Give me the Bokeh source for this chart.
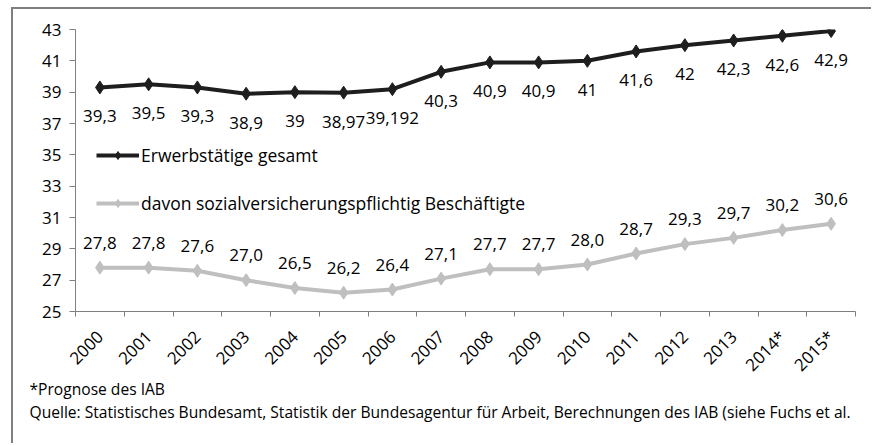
import math
from bokeh.plotting import figure
from bokeh.models import Range1d, FixedTicker, Legend, LegendItem, Title, ColumnDataSource
from bokeh.core.properties import value
from bokeh.embed import file_html
from bokeh.resources import INLINE

years = ["2000", "2001", "2002", "2003", "2004", "2005", "2006", "2007",
         "2008", "2009", "2010", "2011", "2012", "2013", "2014*", "2015*"]
erwerb = [39.3, 39.5, 39.3, 38.9, 39.0, 38.97, 39.192, 40.3, 40.9, 40.9, 41.0, 41.6, 42.0, 42.3, 42.6, 42.9]
erwerb_labels = ["39,3", "39,5", "39,3", "38,9", "39", "38,97", "39,192", "40,3", "40,9", "40,9",
                 "41", "41,6", "42", "42,3", "42,6", "42,9"]
svb = [27.8, 27.8, 27.6, 27.0, 26.5, 26.2, 26.4, 27.1, 27.7, 27.7, 28.0, 28.7, 29.3, 29.7, 30.2, 30.6]
svb_labels = ["27,8", "27,8", "27,6", "27,0", "26,5", "26,2", "26,4", "27,1", "27,7", "27,7",
              "28,0", "28,7", "29,3", "29,7", "30,2", "30,6"]
y_ticks = [25, 27, 29, 31, 33, 35, 37, 39, 41, 43]
series_names = ["Erwerbstätige gesamt", "davon sozialversicherungspflichtig Beschäftigte"]
footnotes = ["*Prognose des IAB",
             "Quelle: Statistisches Bundesamt, Statistik der Bundesagentur für Arbeit, Berechnungen des IAB (siehe  Fuchs et al."]

FONT = "Open Sans"
FS = "17px"
xs = [i + 0.5 for i in range(len(years))]

p = figure(width=860, height=436, output_backend="svg", toolbar_location=None,
           x_range=Range1d(0, len(years)), y_range=Range1d(25, 43),
           min_border_left=62, min_border_right=18, min_border_top=20, min_border_bottom=134)
p.styles = {"border-top": "2px solid #7f7f7f", "border-left": "2px solid #7f7f7f",
            "margin-left": "11px", "margin-top": "7px"}
p.outline_line_color = None
p.grid.visible = False

ax = p.xaxis[0]
ax.ticker = FixedTicker(ticks=xs, minor_ticks=list(range(len(years) + 1)))
ax.major_label_overrides = {x: y for x, y in zip(xs, years)}
ax.major_tick_out = 0
ax.major_tick_in = 0
ax.minor_tick_out = 5
ax.minor_tick_in = 0
ax.minor_tick_line_color = "#7f7f7f"
ax.axis_line_color = "#7f7f7f"
ax.major_label_orientation = math.pi / 4
ax.major_label_text_font = FONT
ax.major_label_text_font_size = "17px"
ax.major_label_text_color = "black"
ax.major_label_standoff = 17

ay = p.yaxis[0]
ay.ticker = FixedTicker(ticks=y_ticks)
ay.minor_tick_line_color = None
ay.major_tick_out = 6
ay.major_tick_in = 0
ay.major_tick_line_color = "#7f7f7f"
ay.axis_line_color = "#7f7f7f"
ay.major_label_text_font = FONT
ay.major_label_text_font_size = FS
ay.major_label_text_color = "black"
ay.major_label_standoff = 8

black = "#1e1e1e"
gray = "#bfbfbf"

src1 = ColumnDataSource(dict(x=xs, y=erwerb, t=erwerb_labels))
src2 = ColumnDataSource(dict(x=xs, y=svb, t=svb_labels))

l1 = p.line("x", "y", source=src1, line_color=black, line_width=4)
m1 = p.scatter("x", "y", source=src1, marker="diamond", size=13, fill_color=black, line_color=black)
l2 = p.line("x", "y", source=src2, line_color=gray, line_width=4)
m2 = p.scatter("x", "y", source=src2, marker="diamond", size=13, fill_color=gray, line_color=gray)

p.text("x", "y", text="t", source=src1, y_offset=29, text_align="center", text_baseline="middle",
       text_font=value(FONT), text_font_size=FS, text_color="black")
p.text("x", "y", text="t", source=src2, y_offset=-25, text_align="center", text_baseline="middle",
       text_font=value(FONT), text_font_size=FS, text_color="black")

legend = Legend(items=[LegendItem(label=series_names[0], renderers=[l1, m1]),
                       LegendItem(label=series_names[1], renderers=[l2, m2])],
                location=(21, 96), glyph_width=43, glyph_height=20, label_height=20,
                spacing=24, padding=0, margin=0, label_standoff=2,
                border_line_color=None, background_fill_alpha=0,
                label_text_font=FONT, label_text_font_size="17.5px", label_text_color="black")
p.add_layout(legend, "center")

p.add_layout(Title(text="\n".join(footnotes), align="left", offset=-46, standoff=-22,
                   text_font=FONT, text_font_size="15.6px", text_font_style="normal",
                   text_line_height=1.09, text_color="black"), "below")

open("out.html", "w").write(file_html(p, INLINE))
